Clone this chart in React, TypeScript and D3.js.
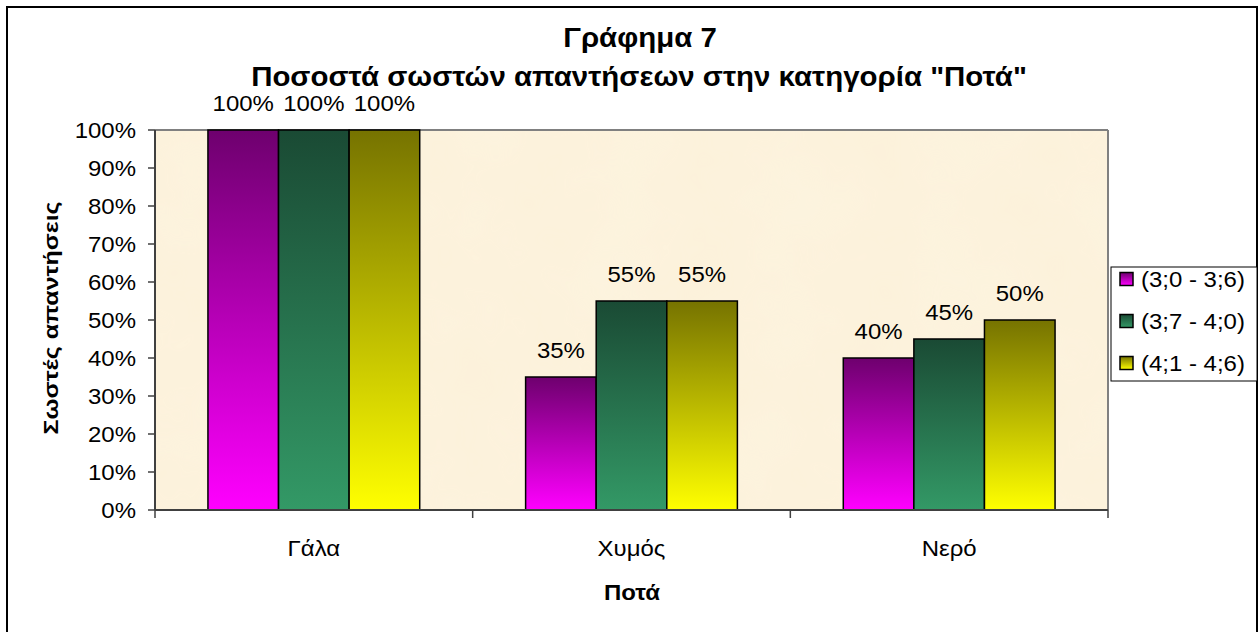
import React from "react";
import * as d3 from "d3";

const categories = ["Γάλα", "Χυμός", "Νερό"];
const seriesNames = ["(3;0 - 3;6)", "(3;7 - 4;0)", "(4;1 - 4;6)"];
const seriesValues = [
  [1.0, 0.35, 0.4],
  [1.0, 0.55, 0.45],
  [1.0, 0.55, 0.5],
];
const yTicks = [0, 0.1, 0.2, 0.3, 0.4, 0.5, 0.6, 0.7, 0.8, 0.9, 1.0];
const gradTop = ["#6e006e", "#1a4a34", "#767300"];
const gradBottom = ["#ff00ff", "#339966", "#ffff00"];

const W = 1258;
const H = 632;
const FONT = "Arial, 'Liberation Sans', sans-serif";
const SX = 1.09;

function T(props: {
  x: number;
  y: number;
  size: number;
  anchor?: string;
  bold?: boolean;
  sx?: number;
  children: React.ReactNode;
}) {
  const { x, y, size, anchor = "middle", bold = false, sx = SX, children } = props;
  return (
    <text
      transform={`translate(${x},${y}) scale(${sx},1)`}
      textAnchor={anchor}
      fontSize={size}
      fontWeight={bold ? "bold" : "normal"}
      fill="#000"
    >
      {children}
    </text>
  );
}

export default function App() {
  const plot = { left: 155, right: 1108, top: 130, bottom: 510 };
  const x0 = d3.scaleBand<string>().domain(categories).range([plot.left, plot.right]).padding(0);
  const x1 = d3
    .scaleBand<string>()
    .domain(seriesNames)
    .range([0, x0.bandwidth()])
    .paddingInner(0)
    .paddingOuter(0.75);
  const y = d3.scaleLinear().domain([0, 1]).range([plot.bottom, plot.top]);
  const fmt = d3.format(".0%");
  const catEdges = [...categories.map((c) => x0(c) as number), plot.right];

  return (
    <svg
      width={W}
      height={H}
      style={{ position: "absolute", left: 0, top: 0, background: "#fff" }}
      fontFamily={FONT}
    >
      <defs>
        {seriesNames.map((s, i) => (
          <linearGradient key={s} id={`g${i}`} x1="0" y1="0" x2="0" y2="1">
            <stop offset="0" stopColor={gradTop[i]} />
            <stop offset="1" stopColor={gradBottom[i]} />
          </linearGradient>
        ))}
        <filter id="parch" x="0" y="0" width="1" height="1">
          <feTurbulence type="fractalNoise" baseFrequency="0.012" numOctaves="3" seed="4" result="n" />
          <feColorMatrix
            in="n"
            type="matrix"
            values="0 0 0 0 0.99  0 0 0 0 0.94  0 0 0 0 0.80  0 0 0 0.35 0"
            result="c"
          />
          <feComposite in="c" in2="SourceGraphic" operator="in" />
        </filter>
      </defs>
      <rect x={0} y={0} width={W} height={H} fill="#fff" />
      <rect x={7} y={7} width={1250} height={640} fill="#fff" stroke="#000" strokeWidth={2} />

      {/* titles */}
      <T x={640} y={47} size={27} bold>
        Γράφημα 7
      </T>
      <T x={639} y={86} size={27} bold>
        Ποσοστά σωστών απαντήσεων στην κατηγορία "Ποτά"
      </T>

      {/* plot area */}
      <rect
        x={plot.left}
        y={plot.top}
        width={plot.right - plot.left}
        height={plot.bottom - plot.top}
        fill="#fcf1da"
      />
      <rect
        x={plot.left}
        y={plot.top}
        width={plot.right - plot.left}
        height={plot.bottom - plot.top}
        fill="#fff"
        filter="url(#parch)"
      />
      <line x1={plot.left} x2={plot.right} y1={plot.top} y2={plot.top} stroke="#808080" strokeWidth={2} />
      <line x1={plot.right} x2={plot.right} y1={plot.top} y2={plot.bottom} stroke="#808080" strokeWidth={2} />

      {/* bars */}
      {categories.map((c, ci) => (
        <g key={c} transform={`translate(${x0(c)},0)`}>
          {seriesNames.map((s, si) => {
            const v = seriesValues[si][ci];
            const bx = x1(s) as number;
            const bw = x1.bandwidth();
            return (
              <g key={s}>
                <rect
                  x={bx}
                  y={y(v)}
                  width={bw}
                  height={y(0) - y(v)}
                  fill={`url(#g${si})`}
                  stroke="#000"
                  strokeWidth={1.5}
                />
                <T x={bx + bw / 2} y={y(v) - 19} size={22}>
                  {fmt(v)}
                </T>
              </g>
            );
          })}
        </g>
      ))}

      {/* y axis */}
      <line x1={plot.left} x2={plot.left} y1={plot.top} y2={plot.bottom} stroke="#404040" strokeWidth={2} />
      {yTicks.map((t) => (
        <g key={t}>
          <line x1={plot.left - 7} x2={plot.left} y1={y(t)} y2={y(t)} stroke="#404040" strokeWidth={1.5} />
          <T x={136} y={y(t) + 8} size={22} anchor="end">
            {fmt(t)}
          </T>
        </g>
      ))}

      {/* x axis */}
      <line x1={plot.left} x2={plot.right} y1={plot.bottom} y2={plot.bottom} stroke="#404040" strokeWidth={2} />
      {catEdges.map((e, i) => (
        <line key={i} x1={e} x2={e} y1={plot.bottom} y2={plot.bottom + 8} stroke="#404040" strokeWidth={1.5} />
      ))}
      {categories.map((c) => (
        <T key={c} x={(x0(c) as number) + x0.bandwidth() / 2} y={556} size={22}>
          {c}
        </T>
      ))}

      {/* axis titles */}
      <T x={632} y={600} size={22} bold>
        Ποτά
      </T>
      <text
        transform={`translate(58, 318) rotate(-90)`}
        textAnchor="middle"
        fontSize={20}
        fontWeight="bold"
        textLength={233}
        lengthAdjust="spacingAndGlyphs"
      >
        Σωστές απαντήσεις
      </text>

      {/* legend */}
      <rect x={1111} y={267} width={146} height={114} fill="#fff" stroke="#000" strokeWidth={1} />
      {seriesNames.map((s, i) => {
        const cy = 279 + i * 42;
        return (
          <g key={s}>
            <rect x={1120} y={cy - 6.5} width={13} height={13} fill={`url(#g${i})`} stroke="#000" strokeWidth={1.5} />
            <T x={1141} y={cy + 8} size={22} anchor="start">
              {s}
            </T>
          </g>
        );
      })}
    </svg>
  );
}
